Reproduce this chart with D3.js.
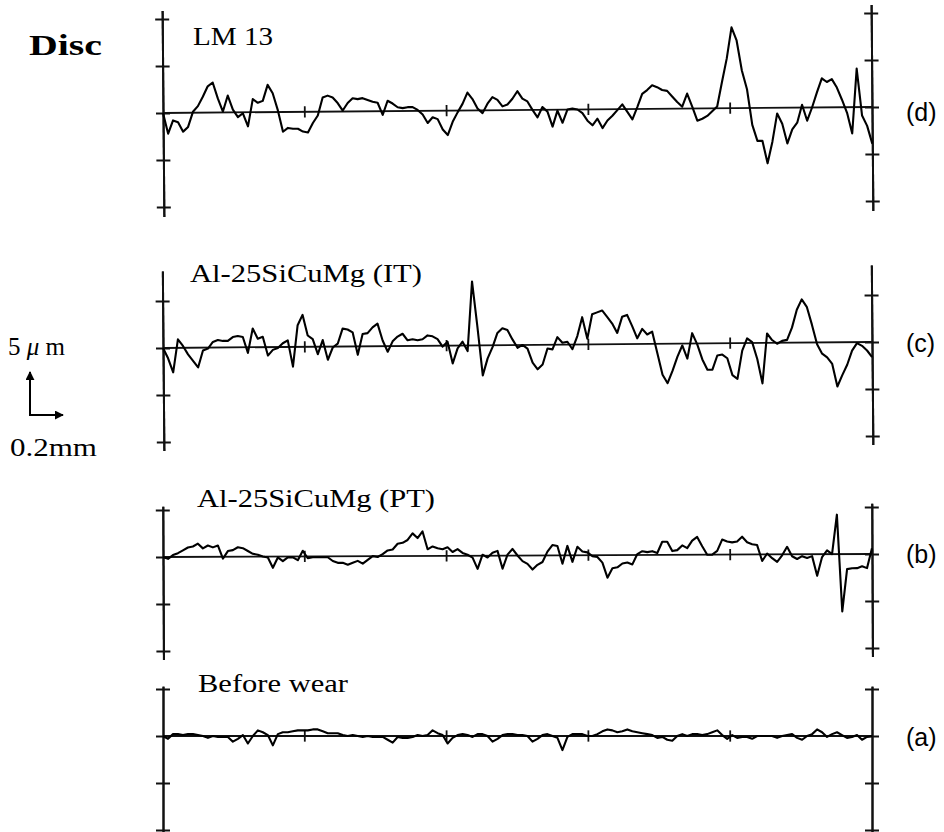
<!DOCTYPE html>
<html><head><meta charset="utf-8">
<script src="https://cdn.jsdelivr.net/npm/d3@7"></script>
<style>body{margin:0;background:#fff}svg{display:block}</style>
</head><body>
<svg id="chart" width="944" height="832"></svg>
<script>
// ---------------- data ----------------
const profileLengthMm = 4.3;                       // traced length
const divisionMarksMm = [0.86, 1.72, 2.58, 3.44];  // small marks on the mean line
const scaleBarUm = 5, scaleBarMm = 0.2;
const panelNames = ["LM 13", "Al-25SiCuMg (IT)", "Al-25SiCuMg (PT)", "Before wear"];
const panelTags = ["(d)", "(c)", "(b)", "(a)"];
const ticksD = [-10, -5, 0, 5, 10];
const ticksC = [-10, -5, 0, 5];
const ticksB = [-10, -5, 0, 5];
const ticksA = [-10, -5, 0, 5];

// surface height (µm), equally spaced along the profile
const profileD = [0.0,-2.2,-0.8,-1.0,-2.0,-1.5,0.1,0.7,1.7,2.8,3.2,1.5,0.1,1.8,0.3,-0.5,-0.1,-1.5,1.4,1.0,
1.2,2.9,2.0,0.2,-2.1,-1.7,-1.8,-1.8,-2.1,-2.2,-1.2,-0.4,1.5,1.7,1.5,0.9,0.1,0.9,1.4,1.3,
1.4,1.2,1.0,0.9,-0.4,1.1,0.8,0.4,0.3,0.4,0.4,0.1,-0.4,-1.3,-0.7,-0.9,-2.0,-2.6,-1.2,-0.2,
0.7,1.9,1.2,0.2,-0.3,0.7,1.4,1.1,0.4,0.6,1.2,2.0,1.2,0.9,0.0,-0.8,0.3,-0.2,-1.8,-0.1,
-1.4,0.0,0.1,0.0,-0.4,-1.2,-1.7,-1.0,-2.0,-1.2,-0.7,-0.1,0.5,-0.3,-1.1,0.2,1.6,2.0,2.5,2.3,
2.0,1.9,1.3,0.7,0.2,1.6,0.2,-1.3,-1.1,-0.8,-0.3,0.2,2.8,5.3,8.6,7.2,4.0,2.0,-1.8,-3.5,
-3.5,-5.9,-3.6,-0.6,-1.7,-3.8,-2.3,-1.6,0.3,-1.4,0.0,1.6,3.1,2.7,3.0,2.1,0.8,-0.6,-2.8,4.1,
-0.9,-2.0,-3.9];
const profileC = [0.0,-1.1,-2.6,0.9,0.2,-0.7,-1.4,-2.1,-0.3,-0.1,0.6,0.8,0.7,0.7,1.1,1.2,1.1,-0.6,2.0,0.9,
1.1,-0.9,-0.3,-0.1,0.4,0.7,-2.1,2.3,3.4,1.2,0.8,-0.8,0.7,-1.4,-0.1,0.3,1.9,1.8,1.5,-0.9,
1.3,1.4,2.0,2.4,0.6,-0.6,0.5,1.0,1.3,0.6,0.7,0.6,0.7,1.1,1.0,0.7,-0.1,0.4,-1.9,-0.3,
0.4,-0.6,6.8,2.0,-3.2,-1.4,-0.2,1.3,1.8,1.6,0.6,-0.3,0.0,-0.4,-1.9,-2.6,-2.1,-0.4,-0.5,0.8,
0.2,0.3,-0.5,0.9,2.9,0.6,3.2,3.4,3.6,2.9,2.2,1.2,2.9,3.1,1.9,0.6,1.6,1.0,1.3,-1.0,
-3.3,-4.2,-2.9,-1.4,-0.2,-1.6,1.1,-0.1,-1.7,-2.8,-2.8,-1.3,-1.2,-1.6,-3.4,-3.8,-0.8,0.5,0.1,-1.7,
-4.3,1.0,0.3,-0.1,0.2,0.3,1.6,3.5,4.6,3.8,1.9,-0.2,-1.2,-1.6,-2.3,-4.7,-3.5,-2.4,-0.9,-0.1,
-0.4,-0.9,-1.6];
const profileB = [0.0,-0.2,0.2,0.4,0.7,1.0,1.1,1.4,0.9,1.2,1.0,1.2,-0.2,0.6,0.7,1.0,0.9,0.6,0.3,0.2,
0.0,-0.1,-1.2,-0.1,-0.5,-0.1,-0.1,-0.4,0.6,-0.2,-0.1,-0.1,-0.1,-0.1,-0.5,-0.7,-0.7,-0.9,-0.7,-0.5,
-0.8,-0.4,0.0,-0.1,0.2,0.6,0.7,1.3,1.4,1.7,2.4,1.9,2.6,0.7,1.0,0.8,0.7,0.9,0.4,0.7,
0.3,0.1,-0.2,-1.4,0.1,-0.2,0.3,0.5,-1.4,0.1,0.7,0.0,-0.6,-0.9,-1.5,-1.0,-0.7,0.4,1.1,1.0,
-0.9,1.0,-0.7,0.9,0.4,0.3,-0.1,-0.2,-0.8,-2.4,-1.4,-1.3,-0.9,-0.8,-1.0,0.1,0.4,0.3,0.4,0.2,
1.4,1.4,0.4,0.5,1.0,0.7,1.5,1.9,0.9,0.0,0.0,0.4,1.6,1.4,1.3,1.4,1.9,1.3,1.1,1.0,
-0.7,0.1,-0.4,-0.8,-0.1,0.8,-0.2,-0.5,-0.2,-0.4,-0.2,-2.3,-0.3,0.4,0.0,4.2,-6.1,-1.6,-1.5,-1.5,
-1.3,-1.5,0.6];
const profileA = [0.0,-0.3,0.2,0.2,0.1,0.2,0.2,0.1,0.0,-0.2,0.0,-0.1,-0.1,-0.1,-0.6,-0.3,0.1,-0.8,0.0,0.6,
0.4,0.1,-1.0,0.2,0.4,0.4,0.5,0.6,0.6,0.6,0.7,0.7,0.5,0.3,0.3,0.3,0.1,0.0,0.1,0.0,
-0.1,0.0,-0.1,-0.1,-0.1,-0.4,-0.7,-0.1,-0.2,-0.2,-0.1,0.1,0.0,0.1,0.6,0.3,0.1,-0.8,-0.2,0.1,
0.2,0.1,-0.1,0.2,0.2,0.0,-0.6,-0.3,0.1,0.2,0.2,0.1,0.1,0.0,-0.6,-0.3,0.1,0.2,0.0,-0.2,
-1.5,-0.1,0.2,0.2,0.2,0.0,0.0,0.2,0.5,0.7,0.6,0.4,0.5,0.7,0.5,0.4,0.3,0.2,0.1,-0.2,
-0.1,-0.4,-0.5,0.0,0.2,0.0,0.2,0.2,0.1,0.2,0.4,0.6,0.1,-0.3,0.1,-0.2,-0.1,-0.1,-0.3,0.0,
0.0,0.0,0.0,-0.2,0.0,0.1,0.2,-0.2,-0.4,0.0,0.2,0.7,0.4,-0.1,0.2,0.4,0.1,-0.2,-0.1,0.1,
-0.4,-0.1,0.0];

// ---------------- layout ----------------
const W = 944, H = 832;
const xLeft = 163, xRight = 872;
const pxPerUm = 9.4;
const serif = "'Liberation Serif', Tinos, 'Times New Roman', 'Nimbus Roman', 'Nimbus Roman No9 L', FreeSerif, Times, serif";
const sans = "'Liberation Sans', Arial, Helvetica, sans-serif";

const panels = [
  {data: profileD, name: panelNames[0], tag: panelTags[0], ticks: ticksD, zero: 113, rise: 6,  extent: [-11, 10.9], nameX: 193, nameY: 45,  nameW: 80,  tagY: 121},
  {data: profileC, name: panelNames[1], tag: panelTags[1], ticks: ticksC, zero: 348, rise: 6,  extent: [-10.9, 8.2], nameX: 190, nameY: 282, nameW: 232, tagY: 352},
  {data: profileB, name: panelNames[2], tag: panelTags[2], ticks: ticksB, zero: 557, rise: 3,  extent: [-10.9, 5.4], nameX: 197, nameY: 507, nameW: 238, tagY: 563},
  {data: profileA, name: panelNames[3], tag: panelTags[3], ticks: ticksA, zero: 736, rise: 0,  extent: [-10.6, 5.3], nameX: 198, nameY: 692, nameW: 150, tagY: 746}
];

const svg = d3.select("#chart");
svg.append("rect").attr("width", W).attr("height", H).attr("fill", "#fff");

const x = d3.scaleLinear().domain([0, profileLengthMm]).range([xLeft, xRight]);

panels.forEach(p => {
  const y = d3.scaleLinear().domain([-1, 1]).range([p.zero + pxPerUm, p.zero - pxPerUm]);
  const yAxisScale = d3.scaleLinear().domain(p.extent).range(p.extent.map(y));
  const angle = -Math.atan2(p.rise, xRight - xLeft) * 180 / Math.PI;
  const g = svg.append("g").attr("transform", `rotate(${angle},${xLeft},${p.zero})`);

  // vertical axes with "+" ticks on both sides
  [xLeft, xRight].forEach(ax => {
    [d3.axisLeft, d3.axisRight].forEach(fn => {
      const a = g.append("g").attr("transform", `translate(${ax},0)`)
        .call(fn(yAxisScale).tickValues(p.ticks).tickSize(7).tickSizeOuter(0).tickFormat(""));
      a.select(".domain").attr("stroke", "#111").attr("stroke-width", 2);
      a.selectAll(".tick line").attr("stroke", "#111").attr("stroke-width", 2);
    });
  });

  // mean line
  g.append("line")
    .attr("x1", x(0)).attr("x2", x(profileLengthMm))
    .attr("y1", y(0)).attr("y2", y(0))
    .attr("stroke", "#111").attr("stroke-width", 1.8);
  g.selectAll(".div").data(divisionMarksMm).enter().append("line")
    .attr("x1", d => x(d)).attr("x2", d => x(d))
    .attr("y1", y(-0.6)).attr("y2", y(0.6))
    .attr("stroke", "#111").attr("stroke-width", 1.8);

  // profile trace
  const n = p.data.length;
  const line = d3.line()
    .x((d, i) => x(i * profileLengthMm / (n - 1)))
    .y(d => y(d));
  g.append("path").datum(p.data)
    .attr("d", line)
    .attr("fill", "none").attr("stroke", "#000")
    .attr("stroke-width", 2.1).attr("stroke-linejoin", "round");

  // labels
  svg.append("text").attr("x", p.nameX).attr("y", p.nameY)
    .attr("font-family", serif).attr("font-size", 26)
    .attr("textLength", p.nameW).attr("lengthAdjust", "spacingAndGlyphs")
    .attr("fill", "#000").text(p.name);
  svg.append("text").attr("x", 906).attr("y", p.tagY)
    .attr("font-family", sans).attr("font-size", 25)
    .attr("fill", "#000").text(p.tag);
});

// title
svg.append("text").attr("x", 29).attr("y", 55)
  .attr("font-family", serif).attr("font-size", 30).attr("font-weight", "bold")
  .attr("textLength", 73).attr("lengthAdjust", "spacingAndGlyphs")
  .text("Disc");

// scale bar
const yScaleRef = d3.scaleLinear().domain([0, 1]).range([0, pxPerUm]);
const corner = {x: 30, y: 415};
const defs = svg.append("defs");
defs.append("marker").attr("id", "arr").attr("viewBox", "0 0 10 10")
  .attr("refX", 9).attr("refY", 5).attr("markerWidth", 4.5).attr("markerHeight", 4.5)
  .attr("orient", "auto").attr("markerUnits", "strokeWidth")
  .append("path").attr("d", "M0,0L10,5L0,10z").attr("fill", "#000");
svg.append("line").attr("x1", corner.x).attr("y1", corner.y)
  .attr("x2", corner.x).attr("y2", corner.y - yScaleRef(scaleBarUm) + 4)
  .attr("stroke", "#000").attr("stroke-width", 2).attr("marker-end", "url(#arr)");
svg.append("line").attr("x1", corner.x - 1).attr("y1", corner.y)
  .attr("x2", corner.x + (x(scaleBarMm) - x(0))).attr("y2", corner.y)
  .attr("stroke", "#000").attr("stroke-width", 2).attr("marker-end", "url(#arr)");
const t5 = svg.append("text").attr("x", 8).attr("y", 355)
  .attr("font-family", serif).attr("font-size", 25).attr("fill", "#000");
t5.append("tspan").text(scaleBarUm + " ");
t5.append("tspan").attr("font-style", "italic").text("μ");
t5.append("tspan").text(" m");
svg.append("text").attr("x", 10).attr("y", 456)
  .attr("font-family", serif).attr("font-size", 25)
  .attr("textLength", 87).attr("lengthAdjust", "spacingAndGlyphs")
  .text(scaleBarMm + "mm");
</script>
</body></html>
